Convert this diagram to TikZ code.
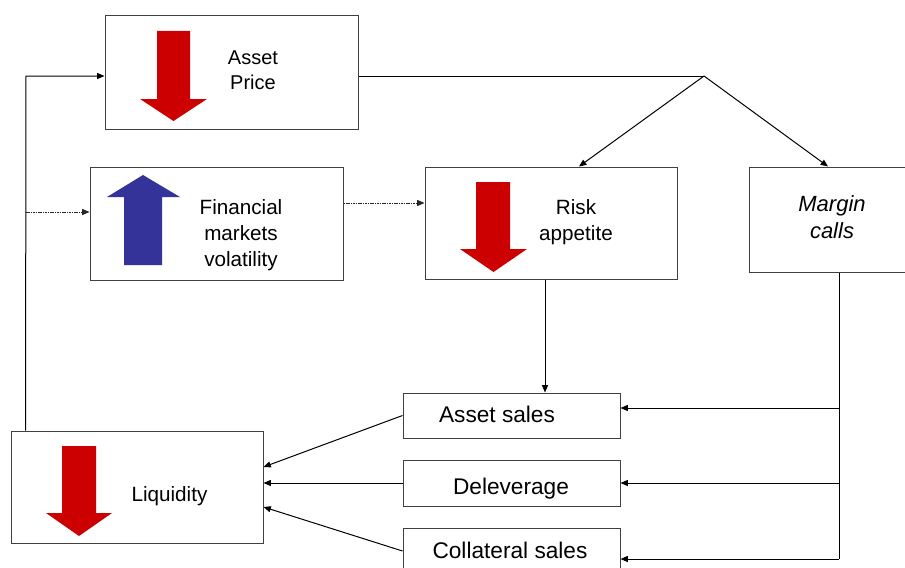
\documentclass[tikz,border=0pt]{standalone}
\usepackage{fontspec}
\setmainfont{Liberation Sans}
\usetikzlibrary{arrows.meta}
\definecolor{dnred}{HTML}{CC0000}
\definecolor{upblue}{HTML}{333399}
\begin{document}
\begin{tikzpicture}[x=0.75pt,y=-0.75pt,
  box/.style={draw=black!75, line width=0.75pt, inner sep=0, rectangle},
  lbl/.style={inner sep=0, align=center, text=black},
  conn/.style={draw=black, line width=0.75pt},
  arr/.style={conn, -{Triangle[length=5.5pt,width=4.5pt]}},
  dotarr/.style={draw=black!85, line width=0.7pt, dash pattern=on 1.2pt off 0.6pt, -{Triangle[length=5.5pt,width=4.5pt]}},
  redarrow/.style={fill=dnred, draw=none},
  bluearrow/.style={fill=upblue, draw=none}]
\useasboundingbox (0,0) rectangle (905,567);
\clip (0,0) rectangle (905,567);

% boxes
\node[box, minimum width=189.75pt, minimum height=84.75pt] (ap) at (231.5,72.5) {};
\node[box, minimum width=189.75pt, minimum height=84.75pt] (fin) at (216.5,223.5) {};
\node[box, minimum width=189pt, minimum height=84pt] (risk) at (551,223) {};
\node[box, minimum width=118.5pt, minimum height=78.75pt] (mc) at (828,219.5) {};
\node[box, minimum width=162.75pt, minimum height=33.75pt] (as) at (511.5,415.5) {};
\node[box, minimum width=162.75pt, minimum height=34.5pt] (dl) at (511.5,483) {};
\node[box, minimum width=162.75pt, minimum height=34.5pt] (cs) at (511.5,551) {};
\node[box, minimum width=189pt, minimum height=84pt] (liq) at (137,487) {};

% block arrows
\fill[redarrow] (157,31)--(190,31)--(190,99)--(207,99)--(173.5,121)--(140,99)--(157,99)--cycle;
\fill[bluearrow] (124,265)--(162,265)--(162,197)--(180,197)--(143,175)--(107,197)--(124,197)--cycle;
\fill[redarrow] (476,182)--(510,182)--(510,249)--(527,249)--(493.5,272)--(460,249)--(476,249)--cycle;
\fill[redarrow] (62,446)--(96,446)--(96,513)--(112,513)--(79,536)--(46,513)--(62,513)--cycle;

% labels
\node[lbl, font=\fontsize{15}{19}\selectfont] (apt) at (253,70) {Asset\\Price};
\node[lbl, font=\fontsize{15.5}{19.5}\selectfont] (fint) at (241,235) {Financial\\markets\\volatility};
\node[lbl, font=\fontsize{15.5}{19.5}\selectfont] (riskt) at (576,222) {Risk\\appetite};
\node[lbl, font=\fontsize{16.5}{20}\selectfont\itshape] (mct) at (832,217) {Margin\\calls};
\node[lbl, font=\fontsize{17}{20}\selectfont] (ast) at (497,414) {Asset sales};
\node[lbl, font=\fontsize{17}{20}\selectfont] (dlt) at (511,489) {Deleverage};
\node[lbl, font=\fontsize{17}{20}\selectfont] (cst) at (510,550) {Collateral sales};
\node[lbl, font=\fontsize{15.5}{19.5}\selectfont] (liqt) at (169.5,496) {Liquidity};

% coordinates
\coordinate (J) at (704,76);
\coordinate (LT) at (26,76);
\coordinate (D1) at (26,212);
\coordinate (D2) at (343,203);
\coordinate (V1) at (839,408);
\coordinate (V2) at (839,483);
\coordinate (V3) at (839,559);

% connectors
\draw[arr] ([xshift=11.25pt]liq.north west) -- (LT) -- (LT -| ap.west);
\draw[dotarr] (D1) -- (D1 -| fin.west);
\draw[dotarr] (D2 -| fin.east) -- (D2 -| risk.west);
\draw[conn] (J -| ap.east) -- (J);
\draw[arr] (J) -- ([xshift=21pt]risk.north);
\draw[arr] (J) -- (mc.north);
\draw[arr] ([xshift=-4.5pt]risk.south) -- ([xshift=-4.5pt]risk.south |- as.north);
\draw[conn] ([xshift=8.25pt]mc.south) -- (V3);
\draw[arr] (V1) -- (V1 -| as.east);
\draw[arr] (V2) -- (V2 -| dl.east);
\draw[arr] (V3) -- (V3 -| cs.east);
\draw[arr] (as.west) -- ([yshift=15pt]liq.east);
\draw[arr] (dl.west) -- ([yshift=3pt]liq.east);
\draw[arr] (cs.west) -- ([yshift=-15pt]liq.east);
\end{tikzpicture}
\end{document}
